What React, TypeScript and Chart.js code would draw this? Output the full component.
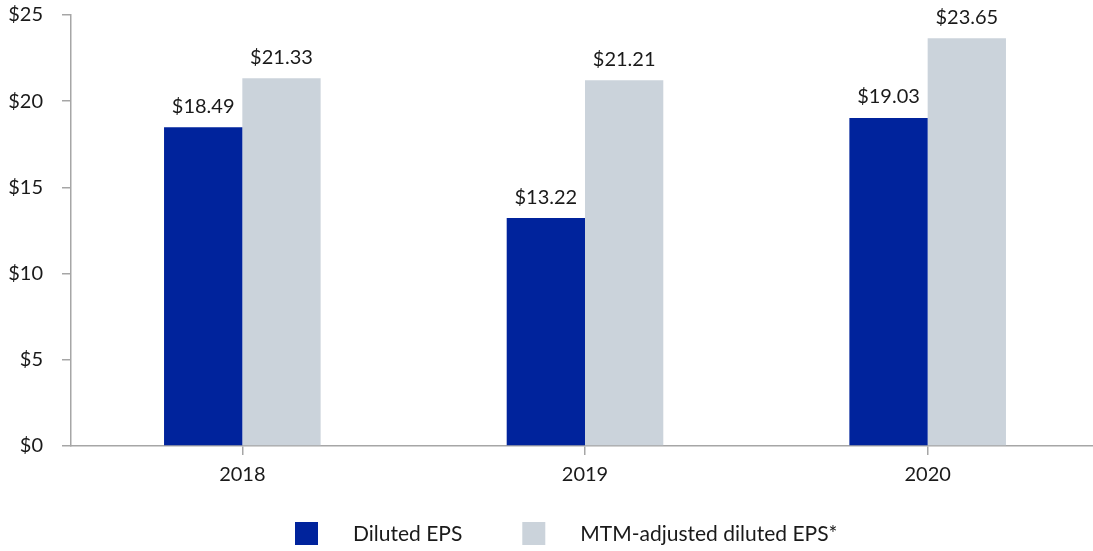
import React, { useEffect, useRef } from "react";
import { Chart, registerables } from "chart.js";

Chart.register(...registerables);

const categories = ["2018", "2019", "2020"];
const dilutedEps = [18.49, 13.22, 19.03];
const mtmAdjustedEps = [21.33, 21.21, 23.65];
const seriesLabels = ["Diluted EPS", "MTM-adjusted diluted EPS*"];
const yTicks = [0, 5, 10, 15, 20, 25];

const FONT = "Lato, 'Open Sans', sans-serif";
const BLUE = "#00239C";
const GREY = "#CBD3DB";
const AXIS = "#A6A6A6";
const TEXT = "#1A1A1A";

const valueLabels = {
  id: "valueLabels",
  afterDatasetsDraw(chart: any) {
    const ctx = chart.ctx;
    ctx.save();
    ctx.font = `20px ${FONT}`;
    ctx.fillStyle = TEXT;
    ctx.textAlign = "center";
    ctx.textBaseline = "middle";
    chart.data.datasets.forEach((ds: any, i: number) => {
      const meta = chart.getDatasetMeta(i);
      meta.data.forEach((bar: any, j: number) => {
        const v = ds.data[j] as number;
        ctx.fillText("$" + v.toFixed(2), bar.x, bar.y - 21);
      });
    });
    ctx.restore();
  },
};

const customLegend = {
  id: "customLegend",
  afterDraw(chart: any) {
    const ctx = chart.ctx;
    ctx.save();
    ctx.font = `21px ${FONT}`;
    ctx.textBaseline = "middle";
    ctx.textAlign = "left";
    const box = 23;
    const gapText = 35;
    const gapItem = 60;
    const cy = 533.5;
    let x = 295;
    chart.data.datasets.forEach((ds: any) => {
      const w = ctx.measureText(ds.label).width;
      ctx.fillStyle = ds.backgroundColor;
      ctx.fillRect(x, cy - box / 2, box, box);
      ctx.fillStyle = TEXT;
      ctx.fillText(ds.label, x + box + gapText, cy + 1);
      x = x + box + gapText + w + gapItem;
    });
    ctx.restore();
  },
};

export default function App() {
  const ref = useRef<HTMLCanvasElement | null>(null);
  useEffect(() => {
    if (!ref.current) return;
    const chart = new Chart(ref.current, {
      type: "bar",
      data: {
        labels: categories,
        datasets: [
          {
            label: seriesLabels[0],
            data: dilutedEps,
            backgroundColor: BLUE,
            categoryPercentage: 0.457,
            barPercentage: 1,
          },
          {
            label: seriesLabels[1],
            data: mtmAdjustedEps,
            backgroundColor: GREY,
            categoryPercentage: 0.457,
            barPercentage: 1,
          },
        ],
      },
      options: {
        responsive: false,
        animation: false,
        layout: { padding: { top: 0, left: 0, right: 0, bottom: 0 } },
        plugins: {
          legend: { display: false },
          tooltip: { enabled: false },
        },
        scales: {
          x: {
            offset: true,
            grid: {
              offset: false,
              drawOnChartArea: false,
              drawTicks: true,
              tickLength: 9,
              color: AXIS,
              lineWidth: 1.5,
            },
            border: { color: AXIS, width: 1.5 },
            ticks: {
              color: TEXT,
              font: { family: FONT, size: 20 },
              padding: 8,
            },
            afterFit(scale: any) {
              scale.height = 105;
              scale.paddingLeft = 0;
              scale.paddingRight = 0;
            },
          },
          y: {
            min: 0,
            max: 25,
            afterBuildTicks(scale: any) {
              scale.ticks = yTicks.map((v) => ({ value: v }));
            },
            grid: {
              drawOnChartArea: false,
              drawTicks: true,
              tickLength: 9,
              color: AXIS,
              lineWidth: 1.5,
            },
            border: { color: AXIS, width: 1.5 },
            ticks: {
              color: TEXT,
              font: { family: FONT, size: 20 },
              padding: 19,
              callback: (v: any) => "$" + v,
            },
            afterFit(scale: any) {
              scale.width = 71;
              scale.paddingTop = 15;
              scale.paddingBottom = 0;
            },
          },
        },
      },
      plugins: [valueLabels, customLegend],
    });
    return () => chart.destroy();
  }, []);
  return (
    <div
      style={{
        position: "fixed",
        left: 0,
        top: 0,
        width: 1093,
        height: 551,
        overflow: "hidden",
        background: "#fff",
      }}
    >
      <canvas ref={ref} width={1099} height={551} style={{ display: "block" }} />
    </div>
  );
}
